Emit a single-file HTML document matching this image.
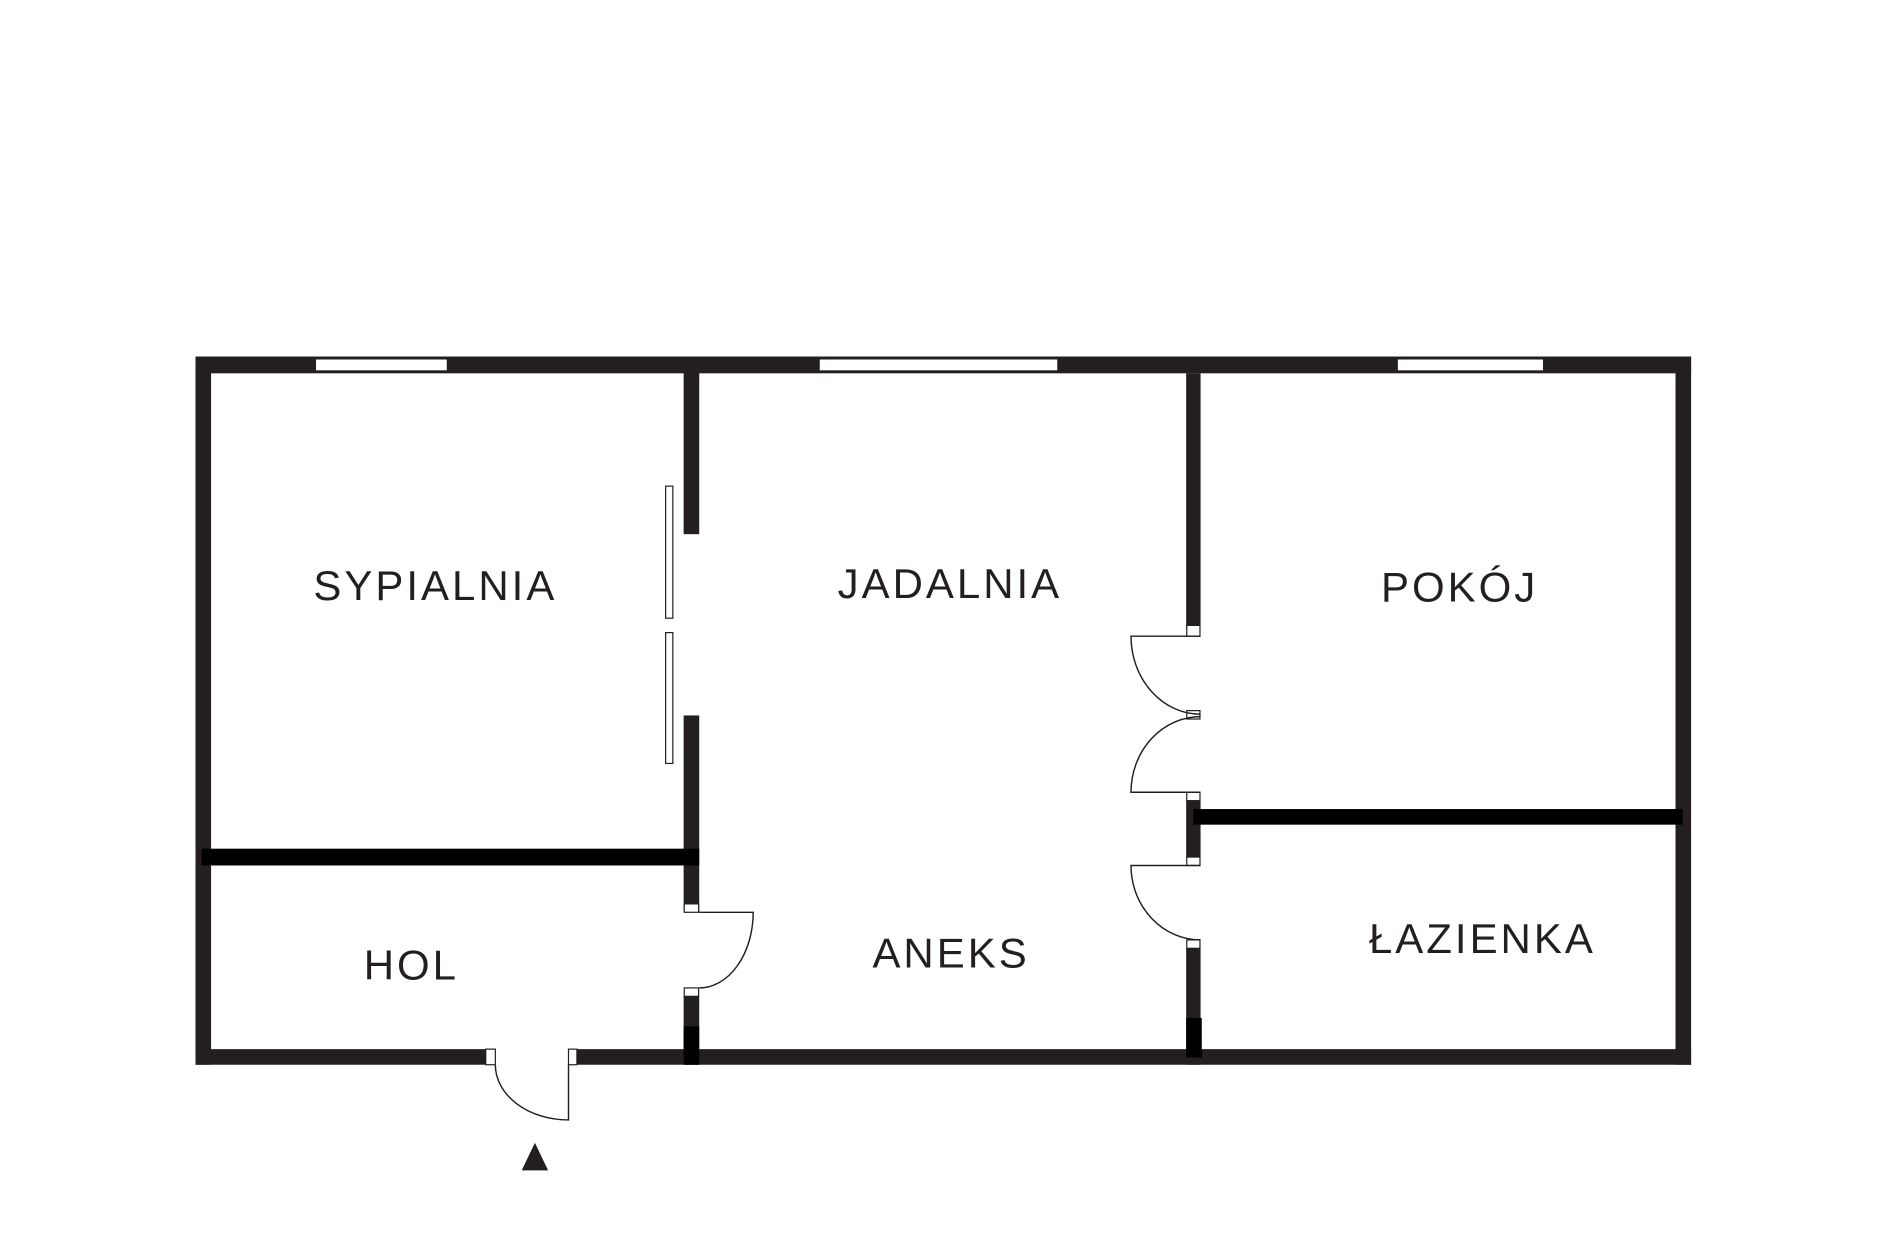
<!DOCTYPE html>
<html><head><meta charset="utf-8"><style>
html,body{margin:0;padding:0;background:#fff;}
svg{display:block}
text{font-family:"Liberation Sans",sans-serif;font-size:35px;fill:#231f20;text-anchor:middle;letter-spacing:2.5px}
</style></head><body>
<svg width="1877" height="1252" viewBox="0 0 1565 1043" preserveAspectRatio="none" xmlns="http://www.w3.org/2000/svg">
<rect width="1565" height="1043" fill="#fff"/>
<g fill="#231f20">
<rect x="163" y="297" width="1247" height="14"/>
<rect x="163" y="297" width="13" height="590"/>
<rect x="1397" y="297" width="13" height="590"/>
<rect x="163" y="874" width="250" height="13"/>
<rect x="474" y="874" width="936" height="13"/>
<rect x="570" y="300" width="13" height="145"/>
<rect x="570" y="596" width="13" height="164"/>
<rect x="570" y="830" width="13" height="57"/>
<rect x="989" y="311" width="12" height="213"/>
<rect x="989" y="667" width="12" height="47"/>
<rect x="989" y="790" width="12" height="97"/>
</g>
<g fill="#000">
<rect x="168" y="707" width="415" height="14"/>
<rect x="995" y="674" width="408" height="13"/>
<rect x="989" y="848" width="13" height="33"/>
<rect x="570" y="855" width="13" height="32"/>
</g>
<g fill="#fff" stroke="#231f20" stroke-width="1">
<rect x="263" y="299" width="110" height="10"/>
<rect x="683" y="299" width="199" height="10"/>
<rect x="1165" y="299" width="122" height="10"/>
<rect x="555" y="405" width="6" height="110"/>
<rect x="555" y="527" width="6" height="109"/>
<rect x="570.5" y="753" width="12" height="7"/>
<rect x="570.5" y="823" width="12" height="7"/>
<rect x="989.5" y="521" width="11" height="9"/>
<rect x="989.5" y="592" width="11" height="7"/>
<rect x="989.5" y="660" width="11" height="7"/>
<rect x="989.5" y="714" width="11" height="7"/>
<rect x="989.5" y="783" width="11" height="7"/>
<rect x="405" y="874" width="8" height="13"/>
<rect x="474" y="874" width="7" height="13"/>
</g>
<g fill="none" stroke="#231f20" stroke-width="1.2">
<path d="M583 760 H628 A45 63 0 0 1 583 823"/>
<path d="M1001 530 H943 A58 65 0 0 0 1001 595"/>
<path d="M1001 660 H943 A58 63 0 0 1 1001 597"/>
<path d="M1001 721 H943 A58 62 0 0 0 1001 783"/>
<path d="M474 887 V933 A61 46 0 0 1 413 887"/>
</g>
<polygon points="446,952 435,975 457,975" fill="#231f20"/>
<text x="363" y="500">SYPIALNIA</text>
<text x="792" y="498">JADALNIA</text>
<text x="1217" y="501">POKÓJ</text>
<text x="343" y="816">HOL</text>
<text x="793" y="806">ANEKS</text>
<text x="1236" y="794">ŁAZIENKA</text>
</svg>
</body></html>
